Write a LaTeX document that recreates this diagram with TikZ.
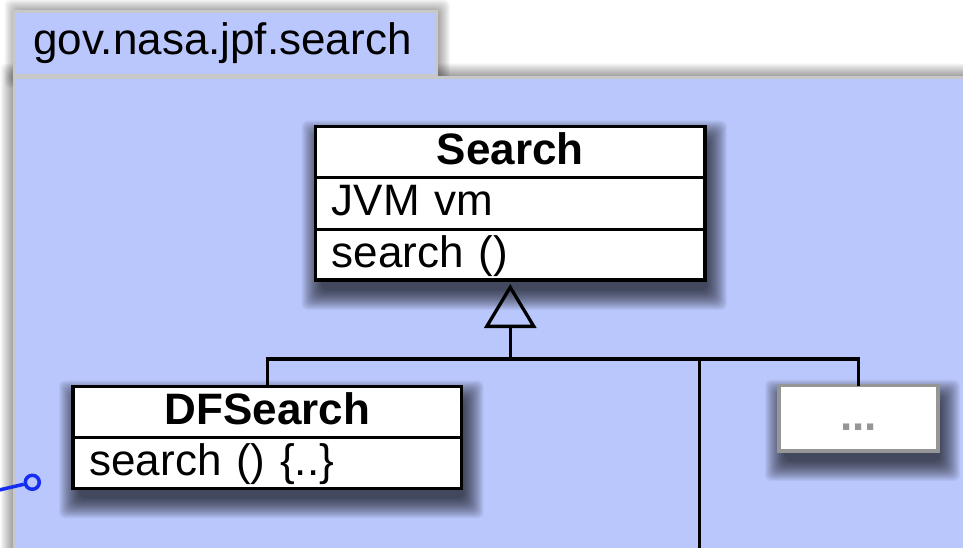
\documentclass[tikz,border=0pt]{standalone}
\usepackage{fontspec}
\setmainfont{Liberation Sans}
\usetikzlibrary{arrows.meta}

\definecolor{pkgfill}{RGB}{186,199,252}
\definecolor{pkgedge}{RGB}{200,200,200}
\definecolor{portblue}{RGB}{20,45,240}
\definecolor{elidegray}{RGB}{150,150,150}

\pgfdeclarelayer{pkglayer}
\pgfdeclarelayer{shadelayer}
\pgfsetlayers{pkglayer,shadelayer,main}

% soft shadow built from stacked translucent rectangles
% #1,#2: corner names, #3,#4: offset, #5: largest spread, #6: opacity per layer
\newcommand\softshade[6]{%
  \foreach \e in {#5,...,-2}{%
    \fill[black, fill opacity=#6, rounded corners=6pt]
      ([shift={(#3-\e,#4-\e)}]#1) rectangle ([shift={(#3+\e,#4+\e)}]#2);
  }%
}

\tikzset{
  umlfont/.style={font=\fontsize{44}{44}\selectfont},
  compartment/.style={draw=black, line width=3.3pt, fill=white, outer sep=0pt,
    inner ysep=0pt, text height=31pt, text depth=6.4pt, umlfont,
    anchor=north west},
  namerow/.style={compartment, align=center, font=\fontsize{44}{44}\selectfont\bfseries},
  memberrow/.style={compartment, align=left},
  pkgpart/.style={fill=pkgfill, draw=pkgedge, line width=3pt},
  genline/.style={draw=black, line width=3.3pt},
  genarrow/.style={genline, shorten >=4pt,
    -{Triangle[open, length=44pt, width=52pt, line width=3.3pt]}},
  wire/.style={draw=portblue, line width=3.5pt},
}

\begin{document}
\begin{tikzpicture}[x=1pt, y=-1pt]
\useasboundingbox (0,0) rectangle (963,548);

% package: tab and body
\begin{pgfonlayer}{pkglayer}
  \fill[white] (-5,-5) rectangle (970,560);
  \coordinate (tab-nw) at (14.5,11.5);
  \coordinate (tab-se) at (436,76);
  \coordinate (body-nw) at (14.5,77.5);
  \coordinate (body-se) at (1010,610);
  \softshade{tab-nw}{tab-se}{2}{0}{12}{0.03}
  \softshade{body-nw}{body-se}{0}{0}{14}{0.03}
  \path[pkgpart] (tab-nw) rectangle (tab-se);
  \path[pkgpart] (body-nw) rectangle (body-se);
  \fill[pkgfill] (16,13) rectangle (434.5,74.5);
\end{pgfonlayer}
\node[umlfont, anchor=base west, inner sep=0pt] (pkgname) at (33,54.5) {gov.nasa.jpf.search};

% class Search
\node[namerow, minimum width=389.5pt, minimum height=51pt, text width=357pt,
      inner xsep=16.25pt] (search-name) at (315.5,126.5) {Search};
\node[memberrow, minimum width=389.5pt, minimum height=52pt, text width=357pt,
      inner xsep=16.25pt] (search-attr) at (search-name.south west) {JVM vm};
\node[memberrow, minimum width=389.5pt, minimum height=50.5pt, text width=357pt,
      inner xsep=16.25pt] (search-op) at (search-attr.south west) {search ()};

% class DFSearch
\node[namerow, minimum width=388.7pt, minimum height=51pt, text width=355.7pt,
      inner xsep=16.5pt] (df-name) at (73,386.3) {DFSearch};
\node[memberrow, minimum width=388.7pt, minimum height=51pt, text width=355.7pt,
      inner xsep=16.5pt] (df-op) at (df-name.south west) {search () \{..\}};

% elided subclass
\node[draw=elidegray, line width=3.3pt, fill=white, outer sep=0pt, anchor=north west,
      minimum width=159pt, minimum height=65.3pt, inner sep=0pt,
      text height=31pt, text depth=6.4pt, text=elidegray,
      font=\fontsize{44}{44}\selectfont\bfseries] (more) at (779,385.7) {...};

% drop shadows of the classes
\begin{pgfonlayer}{shadelayer}
  \softshade{search-name.north west}{search-op.south east}{4}{12}{18}{0.042}
  \softshade{df-name.north west}{df-op.south east}{4}{12}{18}{0.042}
  \softshade{more.north west}{more.south east}{4}{12}{18}{0.042}
\end{pgfonlayer}

% generalization tree
\coordinate (bus) at (search-op.south |- 0,359);
\coordinate (tee) at (699.7,359);
\coordinate (below) at (699.7,560);
\draw[genline] (df-name.north) |- (bus) -| (more.north);
\draw[genline] (tee) -- (below);
\draw[genarrow] (bus) -- (search-op.south);

% required interface port
\node[draw=portblue, line width=3.5pt, circle, minimum size=14pt, inner sep=0pt] (port) at (32.3,482.3) {};
\coordinate (wire-in) at (-3,490.5);
\draw[wire] (wire-in) -- (port);
\end{tikzpicture}
\end{document}
